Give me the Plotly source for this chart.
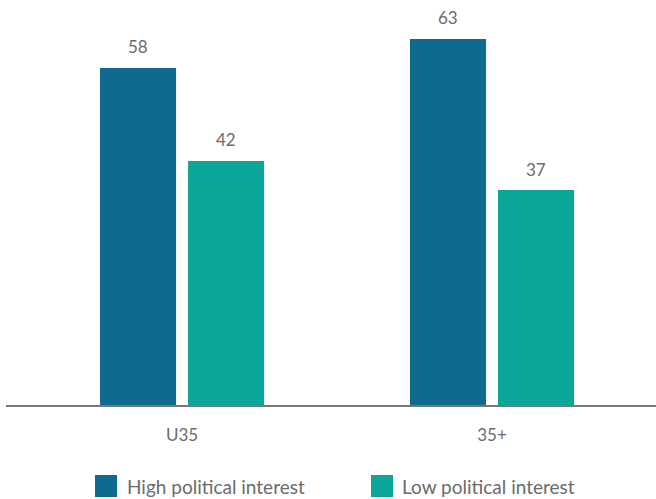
import plotly.graph_objects as go

categories = ["U35", "35+"]
series_names = ["High political interest", "Low political interest"]
high_values = [58, 63]
low_values = [42, 37]
colors = ["#0e6a8f", "#0aa69a"]

W, H = 656, 499
ML, MR, MT, MB = 6, 0, 0, 94
PW = W - ML - MR
PH = H - MT - MB
FONT = "Lato"
TXT = "#6b6b6b"

fig = go.Figure()
for name, vals, col in zip(series_names, [high_values, low_values], colors):
    fig.add_trace(go.Bar(x=categories, y=vals, name=name, marker_color=col,
                         marker_line_width=0, showlegend=False))

# value labels
annotations = []
for i, vals in enumerate([high_values, low_values]):
    shift = -44 if i == 0 else 44
    for c, v in zip(categories, vals):
        annotations.append(dict(x=c, y=v, text=str(v), showarrow=False, xshift=shift,
                                yshift=21, yanchor="middle", xanchor="center",
                                font=dict(family=FONT, size=17, color=TXT)))

# manual legend
def px_to_paper(px, py):
    return (px - ML) / PW, (MT + PH - py) / PH

shapes = []
leg_pos = [(95, 125), (371, 400)]
for (sx, tx), name, col in zip(leg_pos, series_names, colors):
    x0, y0 = px_to_paper(sx, 497)
    x1, y1 = px_to_paper(sx + 22, 475)
    shapes.append(dict(type="rect", xref="paper", yref="paper", x0=x0, x1=x1, y0=y0, y1=y1,
                       fillcolor=col, line_width=0))
    ax, ay = px_to_paper(tx, 486)
    annotations.append(dict(x=ax, y=ay, xref="paper", yref="paper", text=name, showarrow=False,
                            xanchor="left", yanchor="middle",
                            font=dict(family=FONT, size=19, color=TXT)))

fig.update_layout(
    width=W, height=H,
    margin=dict(l=ML, r=MR, t=MT, b=MB),
    paper_bgcolor="white", plot_bgcolor="white",
    barmode="group", bargap=0.432, bargroupgap=0.136,
    showlegend=False,
    annotations=annotations, shapes=shapes,
    xaxis=dict(type="category", range=[-0.568, 1.529], showline=True, linecolor="#777777",
               linewidth=2, showgrid=False, zeroline=False, ticks="",
               ticklabelstandoff=14,
               tickfont=dict(family=FONT, size=17, color=TXT)),
    yaxis=dict(range=[0, 69.7], visible=False, showgrid=False, zeroline=False),
)

fig.write_html("out.html")
